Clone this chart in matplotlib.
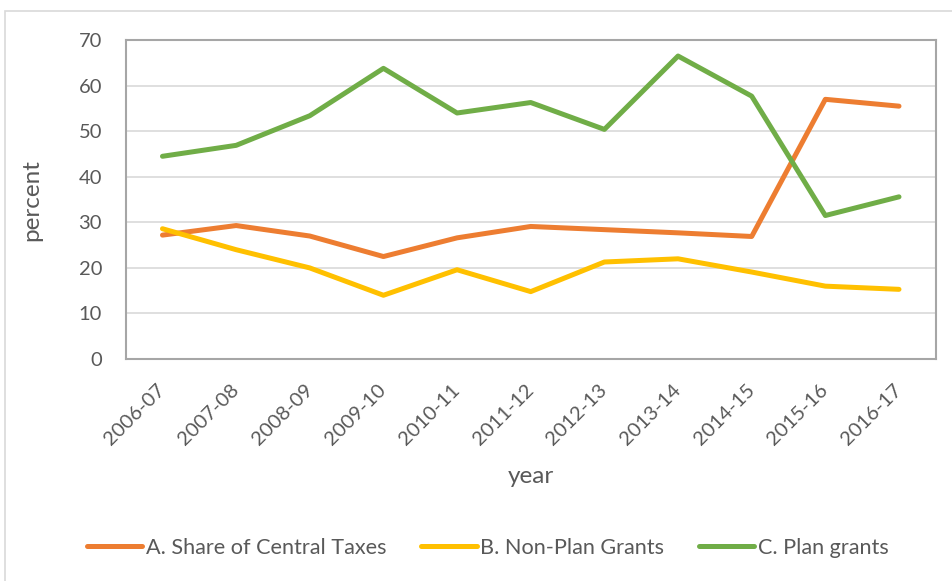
import matplotlib.pyplot as plt
from matplotlib.patches import Rectangle

# ─── Data ─────────────────────────────────────────────────────────────────────

years = ["2006-07", "2007-08", "2008-09", "2009-10", "2010-11", "2011-12",
         "2012-13", "2013-14", "2014-15", "2015-16", "2016-17"]

central_taxes = [27.2, 29.3, 27.0, 22.5, 26.6, 29.1, 28.4, 27.7, 26.9, 57.0, 55.5]
non_plan      = [28.6, 24.0, 20.0, 14.0, 19.6, 14.8, 21.3, 22.0, 19.1, 16.0, 15.3]
plan_grants   = [44.5, 46.9, 53.4, 63.8, 54.0, 56.3, 50.4, 66.5, 57.7, 31.5, 35.6]

series_names = ["A. Share of Central Taxes", "B. Non-Plan Grants", "C. Plan grants"]
colors       = ["#ed7d31", "#ffc000", "#70ad47"]

# ─── Plot ─────────────────────────────────────────────────────────────────────

plt.rcParams["font.family"] = ["Lato", "DejaVu Sans"]
TEXT = "#595959"

fig = plt.figure(figsize=(9.52, 5.81), dpi=100)
ax = fig.add_axes([0.132, 0.382, 0.851, 0.549])

# light chart-area border
fig.patches.append(Rectangle((5 / 952, -0.1), 1.2, 1 - 11 / 581 + 0.1,
                             transform=fig.transFigure, fill=False,
                             edgecolor="#d9d9d9", linewidth=1.2))

x = list(range(len(years)))
for vals, name, c in zip([central_taxes, non_plan, plan_grants], series_names, colors):
    ax.plot(x, vals, color=c, linewidth=3.6, label=name,
            solid_capstyle="round", solid_joinstyle="round", zorder=3)

ax.set_xlim(-0.5, len(years) - 0.5)
ax.set_ylim(0, 70)
ax.set_yticks(range(0, 71, 10))
ax.grid(axis="y", color="#d9d9d9", linewidth=1.2, zorder=0)
for spine in ax.spines.values():
    spine.set_edgecolor("#a6a6a6")
    spine.set_linewidth(1.5)

ax.set_xticks(x)
ax.set_xticklabels(years, rotation=45, ha="right", va="center",
                   rotation_mode="anchor", fontsize=14.5, color=TEXT)
ax.tick_params(axis="x", length=0, pad=20)
ax.tick_params(axis="y", length=0, pad=17, labelsize=14.5, labelcolor=TEXT)

ax.set_ylabel("percent", fontsize=17.5, color=TEXT, labelpad=26)
ax.set_xlabel("year", fontsize=17.5, color=TEXT, labelpad=13)

ax.legend(loc="center", bbox_to_anchor=(0.5126, 0.057), bbox_transform=fig.transFigure,
          ncol=3, frameon=False, fontsize=15.6, labelcolor=TEXT,
          handlelength=2.55, handletextpad=0.18, columnspacing=1.6)

plt.savefig("out.png", dpi=100, facecolor="white")
